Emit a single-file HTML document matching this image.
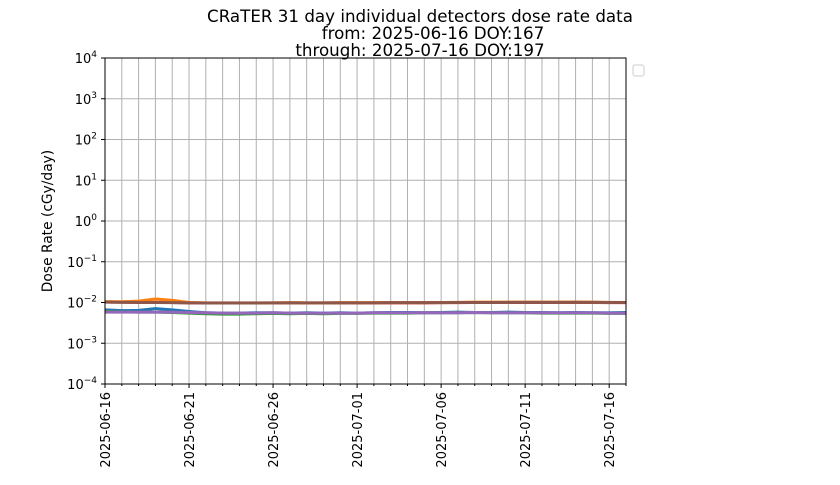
<!DOCTYPE html>
<html><head><meta charset="utf-8"><style>
body{margin:0;background:#fff;font-family:"Liberation Sans","DejaVu Sans",sans-serif}
svg text{font-family:"DejaVu Sans","Liberation Sans",sans-serif;fill:#000}
</style></head><body>
<svg id="chart" width="840" height="480" viewBox="0 0 840 480" xmlns="http://www.w3.org/2000/svg">
<g font-size="16.7">
<text x="420" y="22" text-anchor="middle">CRaTER 31 day individual detectors dose rate data</text>
<text x="433" y="39" text-anchor="middle">from: 2025-06-16 DOY:167</text>
<text x="420" y="56" text-anchor="middle">through: 2025-07-16 DOY:197</text>
</g>
<g id="grid"></g>
<g id="series"></g>
<rect x="105" y="58" width="521" height="326" fill="none" stroke="#000" stroke-width="1"/>
<g id="axes"></g>
<text x="52" y="221" font-size="13.8" text-anchor="middle" transform="rotate(-90 52 221)">Dose Rate (cGy/day)</text>
<rect x="633" y="65" width="11" height="11" rx="2" fill="#fff" stroke="#ccc"/>
</svg>
<script>
const dayCount = 31;
const dateLabels = ["2025-06-16","2025-06-21","2025-06-26","2025-07-01","2025-07-06","2025-07-11","2025-07-16"];
const dateLabelDays = [0,5,10,15,20,25,30];
const yExponents = [-4,-3,-2,-1,0,1,2,3,4];
const seriesColors = ["#1f77b4","#2ca02c","#9467bd","#d62728","#ff7f0e","#8c564b"];
const seriesBlue   = [0.0066,0.0063,0.0064,0.0071,0.0066,0.0060,0.0056,0.0055,0.0055,0.0056,0.0056,0.0055,0.0056,0.0055,0.0056,0.0055,0.0056,0.0057,0.0057,0.0056,0.0057,0.0058,0.0057,0.0057,0.0058,0.0057,0.0057,0.0056,0.0057,0.0056,0.0056,0.0057];
const seriesGreen  = [0.0060,0.0059,0.0058,0.0058,0.0057,0.0055,0.0053,0.0052,0.0052,0.0053,0.0054,0.0053,0.0054,0.0053,0.0054,0.0054,0.0055,0.0055,0.0055,0.0056,0.0056,0.0056,0.0057,0.0056,0.0056,0.0056,0.0055,0.0055,0.0055,0.0055,0.0054,0.0054];
const seriesPurple = [0.0058,0.0058,0.0058,0.0058,0.0058,0.0057,0.0056,0.0055,0.0055,0.0055,0.0056,0.0055,0.0055,0.0055,0.0055,0.0055,0.0056,0.0056,0.0056,0.0056,0.0056,0.0056,0.0057,0.0056,0.0056,0.0056,0.0056,0.0056,0.0056,0.0056,0.0055,0.0055];
const seriesRed    = [0.0103,0.0102,0.0101,0.0101,0.0100,0.0098,0.0097,0.0097,0.0097,0.0097,0.0097,0.0098,0.0097,0.0097,0.0098,0.0098,0.0098,0.0098,0.0098,0.0098,0.0099,0.0099,0.0100,0.0100,0.0100,0.0100,0.0100,0.0100,0.0101,0.0100,0.0099,0.0099];
const seriesOrange = [0.0105,0.0104,0.0108,0.0122,0.0113,0.0100,0.0098,0.0098,0.0098,0.0098,0.0098,0.0099,0.0098,0.0098,0.0099,0.0099,0.0099,0.0099,0.0099,0.0099,0.0100,0.0101,0.0102,0.0102,0.0102,0.0102,0.0102,0.0102,0.0103,0.0102,0.0101,0.0100];
const seriesBrown  = [0.0102,0.0101,0.0100,0.0100,0.0099,0.0098,0.0097,0.0097,0.0097,0.0097,0.0098,0.0098,0.0098,0.0098,0.0098,0.0098,0.0098,0.0099,0.0099,0.0099,0.0099,0.0100,0.0100,0.0100,0.0101,0.0101,0.0101,0.0101,0.0101,0.0101,0.0100,0.0100];
const allSeries = [seriesBlue,seriesGreen,seriesPurple,seriesRed,seriesOrange,seriesBrown];
const seriesNames = ["series-blue","series-green","series-purple","series-red","series-orange","series-brown"];

const NS="http://www.w3.org/2000/svg";
const L=105,R=626,T=58,B=384,totalDays=31;
const xs=d=>L+(R-L)*d/totalDays;
const ys=v=>B-(B-T)*(Math.log10(v)+4)/8;
function mk(tag,attrs,parent){const e=document.createElementNS(NS,tag);for(const k in attrs)e.setAttribute(k,attrs[k]);parent.appendChild(e);return e;}
const grid=document.getElementById('grid'),axes=document.getElementById('axes'),ser=document.getElementById('series');
for(let d=0;d<=totalDays;d++){
  const x=xs(d);
  const g=mk('line',{x1:x,x2:x,y1:T,y2:B,stroke:'#b0b0b0','stroke-width':1},grid);
  
  
  const t=mk('line',{x1:x,x2:x,y1:B,y2:B+(dateLabelDays.includes(d)?4:2),stroke:'#000'},axes);
  
  
}
dateLabelDays.forEach((d,i)=>{
  const x=xs(d)+5;
  const t=mk('text',{x:x,y:B+8,'font-size':13,'text-anchor':'end',transform:`rotate(-90 ${x} ${B+8})`},axes);
  t.textContent=dateLabels[i];
  
  
});
yExponents.forEach(e=>{
  const y=ys(Math.pow(10,e));
  const g=mk('line',{x1:L,x2:R,y1:y,y2:y,stroke:'#b0b0b0'},grid);
  
  
  const t=mk('line',{x1:L-4,x2:L,y1:y,y2:y,stroke:'#000'},axes);
  
  
  const tx=mk('text',{x:L-8,y:y+5,'font-size':13,'text-anchor':'end'},axes);
  
  
  const a=document.createElementNS(NS,'tspan');a.textContent='10';tx.appendChild(a);
  const b=document.createElementNS(NS,'tspan');b.setAttribute('dy','-6');b.setAttribute('font-size','9');b.textContent=e<0?'\u2212'+(-e):String(e);tx.appendChild(b);
});
allSeries.forEach((s,i)=>{
  const pts=s.map((v,d)=>xs(d*totalDays/(s.length-1))+','+ys(v).toFixed(2)).join(' ');
  const p=mk('polyline',{points:pts,fill:'none',stroke:seriesColors[i],'stroke-width':3,'stroke-linejoin':'round'},ser);
  
  
});
</script>
</body></html>
